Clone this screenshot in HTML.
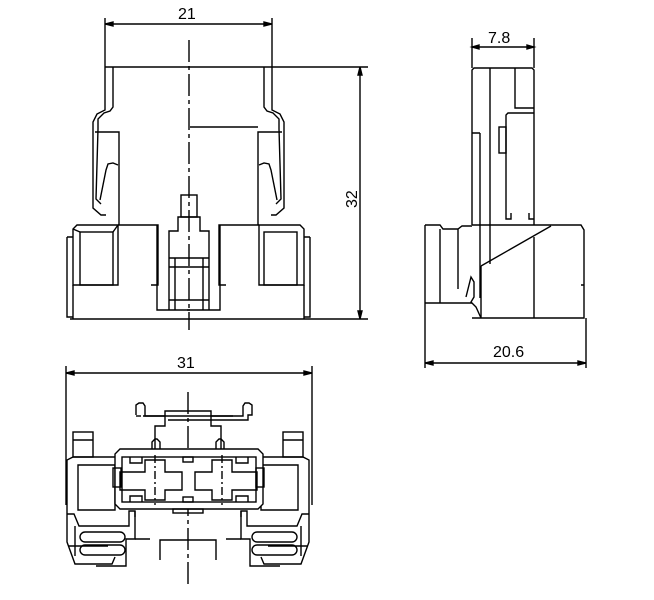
<!DOCTYPE html>
<html><head><style>body{margin:0;background:#fff}svg{display:block}text{font-family:"Liberation Sans",sans-serif;font-size:16px;fill:#000}</style></head><body>
<svg width="654" height="600" viewBox="0 0 654 600" fill="none" stroke="#000" stroke-width="1.4">
<!-- TOP VIEW -->
<line x1="105" y1="18" x2="105" y2="67"/><line x1="272" y1="18" x2="272" y2="67"/>
<line x1="105" y1="24" x2="272" y2="24"/>
<path d="M105 24l8-2v4zM272 24l-8-2v4z" fill="#000"/>
<text x="178" y="19" stroke="none">21</text>
<line x1="105" y1="67" x2="368" y2="67"/>
<line x1="70" y1="319" x2="368" y2="319"/>
<line x1="360" y1="67" x2="360" y2="319"/>
<path d="M360 67l-2 8h4zM360 319l-2-8h4z" fill="#000"/>
<text x="0" y="0" stroke="none" transform="translate(357,208) rotate(-90)">32</text>
<line x1="189" y1="40" x2="189" y2="330" stroke-dasharray="22,4,4,4"/>
<line x1="190" y1="127" x2="258" y2="127"/>
<path d="M105 67V110l-8 4-4 8v86l8 7h5"/>
<path d="M113 67V107l-3 4-6 2-6 6v10l-2 70 5 5"/>
<path d="M95 132h24V225"/><path d="M100 200l6-30 2-6 5-1 5 2"/>
<path d="M272 67V110l8 4 4 8v86l-8 7h-5"/>
<path d="M264 67V107l3 4 6 2 6 6v10l2 70-5 5"/>
<path d="M282 132h-24V225"/><path d="M277 200l-6-30-2-6-5-1-5 2"/>
<path d="M73 285V229l4-4h41v60z"/><rect x="80" y="232" width="33" height="53"/>
<path d="M67 237h6M67 237v80h6"/><path d="M73 285v34M80 232l-7-3M113 232l5-7"/>
<path d="M118 225h40v60h-7"/><path d="M157 225v85h33"/>
<path d="M304 285V229l-4-4h-41v60z"/><rect x="264" y="232" width="33" height="53"/>
<path d="M310 237h-6M310 237v80h-6"/><path d="M304 285v34"/>
<path d="M259 225h-40v60h7"/><path d="M220 225v85h-33"/>
<path d="M169 310V231h9v-14h22v14h9v79"/><rect x="181" y="195" width="16" height="22"/>
<path d="M169 258h40M169 267h40M175 258v52M203 258v52M169 300h40"/>
<!-- SIDE VIEW -->
<line x1="472" y1="38" x2="472" y2="68"/><line x1="534" y1="38" x2="534" y2="68"/>
<line x1="472" y1="47" x2="534" y2="47"/>
<path d="M472 47l7-2v4zM534 47l-7-2v4z" fill="#000"/>
<text x="488" y="43" stroke="none">7.8</text>
<path d="M472 225V70l2-2h58l2 2V225"/>
<path d="M490 68V264M515 68V108h19M506 213V115l2-2h26"/>
<rect x="499" y="127" width="7" height="26"/>
<path d="M506 213v6h5v-6M529 213v6h5"/>
<path d="M480 133h-8M480 133v165"/>
<path d="M425 225h15l3 4h15l4-3h10v0M425 225v78M440 229v74M425 303h47M458 229v60"/>
<path d="M472 225h109l3 5v88H472"/>
<path d="M481 266l70-40M481 266v52M534 237v81M584 285h-3M425 303v15"/>
<path d="M466 297l5-20 3 5v15l-3 5 5 5 5 11"/>
<line x1="425" y1="318" x2="425" y2="368"/><line x1="586" y1="318" x2="586" y2="368"/>
<line x1="425" y1="363" x2="586" y2="363"/>
<path d="M425 363l8-2v4zM586 363l-8-2v4z" fill="#000"/>
<text x="493" y="357" stroke="none">20.6</text>
<!-- BOTTOM VIEW -->
<line x1="66" y1="366" x2="66" y2="505"/><line x1="312" y1="366" x2="312" y2="505"/>
<line x1="66" y1="373" x2="312" y2="373"/>
<path d="M66 373l8-2v4zM312 373l-8-2v4z" fill="#000"/>
<text x="177" y="368" stroke="none">31</text>
<line x1="188" y1="392" x2="188" y2="588" stroke-dasharray="22,4,4,4"/>
<path d="M136 415v-10l3-2h4l2 3v10h98v-10l2-3h4l3 2v10h-4v5h-80"/>
<path d="M141 416h-5"/>
<path d="M143 416h22v10h-10v26h-8M233 416h-22v10h10v26h8"/>
<path d="M165 416v-5h46v5"/>
<path d="M152 450v-8l3-3h2l3 3v8M216 450v-8l3-3h2l3 3v8"/>
<rect x="73" y="432" width="20" height="25"/><rect x="283" y="432" width="20" height="25"/>
<path d="M73 440h20M283 440h20"/>
<path d="M67 514V460l6-3h42M309 514V460l-6-3h-42"/>
<path d="M78 465h37v45H78z M298 465h-37v45h37z"/>
<path d="M120 449h138l5 5v50l-5 5H120l-5-5v-50z" fill="#fff"/>
<rect x="122" y="457" width="134" height="45"/>
<rect x="113" y="468" width="8" height="19"/><rect x="256" y="468" width="8" height="19"/>
<path d="M145 460h20v12h17v18h-17v10h-20v-10h-25v-18h25z"/>
<path d="M232 460h-20v12h-17v18h17v10h20v-10h25v-18h-25z"/>
<path d="M130 457v6h12v-6M236 457v6h12v-6M130 502v-6h12v6M236 502v-6h12v6"/>
<path d="M155 455v50M222 455v50" stroke-dasharray="8,3,2,3"/>
<rect x="183" y="457" width="10" height="5"/><rect x="183" y="497" width="10" height="5"/>
<rect x="173" y="509" width="30" height="4"/>
<path d="M67 514h7l5 12h50v-15h6v6"/>
<path d="M309 514h-7l-5 12h-50v-15h-6v6"/>
<path d="M75 526v30M301 526v30"/>
<path d="M135 511v28h-9v27h-30M241 511v28h9v27h30"/>
<path d="M135 539h15M241 539h-15"/>
<rect x="80" y="532" width="45" height="10" rx="5"/><rect x="252" y="532" width="45" height="10" rx="5"/>
<rect x="80" y="545" width="45" height="10" rx="5"/><rect x="252" y="545" width="45" height="10" rx="5"/>
<path d="M67 514v28l8 22h37l3-7M309 514v28l-8 22h-37l-3-7"/>
<path d="M68 546h40M268 546h40"/>
<path d="M160 560v-20h56v20"/>
</svg>
</body></html>
